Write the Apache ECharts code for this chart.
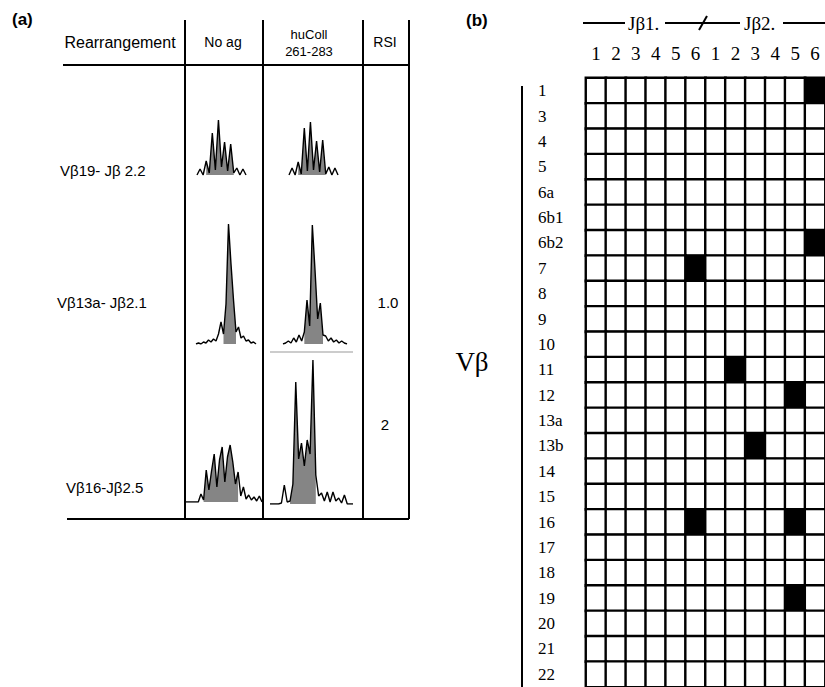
<!DOCTYPE html>
<html>
<head>
<meta charset="utf-8">
<script src="https://cdn.jsdelivr.net/npm/echarts@6/dist/echarts.min.js"></script>
<style>
  html, body { margin: 0; background: #fff; }
  #chart { width: 825px; height: 687px; }
</style>
</head>
<body>
<div id="chart"></div>
<script>
// ---- panel (b): Vβ x Jβ usage grid ----
var vbRows = ['1', '3', '4', '5', '6a', '6b1', '6b2', '7', '8', '9', '10', '11', '12',
  '13a', '13b', '14', '15', '16', '17', '18', '19', '20', '21', '22'];
var jbCols = ['1', '2', '3', '4', '5', '6', '1', '2', '3', '4', '5', '6'];
// used rearrangements: [Vβ row, Jβ column index 0..11]
var usedCells = [['1', 11], ['6b2', 11], ['7', 5], ['11', 7], ['12', 10],
  ['13b', 8], ['16', 5], ['16', 10], ['19', 10]];

// ---- panel (a): spectratype profiles ----
var rearrangements = ['Vβ19- Jβ 2.2', 'Vβ13a- Jβ2.1', 'Vβ16-Jβ2.5'];
var rsiValues = ['', '1.0', '2'];
var v19NoAg = [0, 6, 0, 14, 2, 42, 5, 55, 8, 33, 4, 31, 2, 7, 0, 6, 0];
var v19Coll = [0, 7, 0, 13, 1, 47, 4, 53, 5, 34, 3, 35, 1, 8, 0, 7, 0];
var v13NoAg = [0, 1, 0, 2, 1, 4, 2, 5, 3, 10, 22, 10, 40, 120, 80, 44, 12, 17, 6, 8, 3, 4, 1, 2, 0];
var v13Coll = [0, 1, 3, 1, 6, 2, 9, 3, 12, 44, 18, 119, 74, 25, 41, 9, 8, 3, 6, 2, 4, 1, 3, 1, 0];
var v16NoAg = [0, 0, 0, 0, 0, 0, 8, 2, 32, 12, 31, 48, 15, 42, 55, 20, 45, 57, 40, 18, 30, 6, 15, 3, 7, 2, 5, 1, 6, 0];
var v16Coll = [0, 0, 0, 0, 1, 19, 2, 3, 20, 122, 45, 61, 38, 64, 50, 144, 29, 8, 11, 3, 12, 2, 12, 3, 6, 1, 9, 0, 0, 0];
// grey filled part of each profile (first, last index)
var fillRanges = [[3, 12], [3, 12], [11, 16], [8, 15], [7, 20], [7, 16]];

var profiles = [v19NoAg, v19Coll, v13NoAg, v13Coll, v16NoAg, v16Coll];
// left, right, baseline (px)
var boxes = [[197, 246, 175], [289, 338, 175], [196, 256, 344],
  [283, 347, 344], [185, 262, 502], [270, 353, 504]];

var chart = echarts.init(document.getElementById('chart'), null, { renderer: 'svg' });

var grids = [], xAxes = [], yAxes = [], series = [];
profiles.forEach(function (p, i) {
  var b = boxes[i];
  grids.push({ left: b[0], width: b[1] - b[0], top: b[2] - 150, height: 150 });
  xAxes.push({ type: 'category', gridIndex: i, show: false, boundaryGap: false,
    data: p.map(function (v, k) { return k; }) });
  yAxes.push({ type: 'value', gridIndex: i, show: false, min: 0, max: 150 });
  var r = fillRanges[i];
  series.push({
    type: 'line', xAxisIndex: i, yAxisIndex: i, symbol: 'none', silent: true,
    data: p.map(function (v, k) { return k >= r[0] && k <= r[1] ? v : '-'; }),
    lineStyle: { width: 0 }, areaStyle: { color: '#858585', opacity: 1 }, z: 1
  });
  series.push({
    type: 'line', xAxisIndex: i, yAxisIndex: i, symbol: 'none', silent: true,
    data: p, lineStyle: { color: '#000', width: 1.4 }, z: 2
  });
});

// heatmap grid (bottom row runs past the page edge, as in the figure)
var hm = profiles.length;
grids.push({ left: 586, top: 78, width: 240, height: 612 });
xAxes.push({
  type: 'category', gridIndex: hm, position: 'top',
  data: jbCols.map(function (c, k) { return k; }),
  axisLine: { show: false }, axisTick: { show: false }, splitLine: { show: false },
  axisLabel: { interval: 0, margin: 15, color: '#000', fontFamily: 'Liberation Serif', fontSize: 19,
    formatter: function (v) { return jbCols[v]; } }
});
yAxes.push({
  type: 'category', gridIndex: hm, inverse: true,
  data: vbRows.map(function (r, k) { return k; }),
  axisLine: { show: false }, axisTick: { show: false }, splitLine: { show: false },
  axisLabel: { interval: 0, margin: 48, align: 'left', color: '#000', fontFamily: 'Liberation Serif', fontSize: 17,
    formatter: function (v) { return vbRows[v]; } }
});
var cells = [];
vbRows.forEach(function (r, ri) {
  jbCols.forEach(function (c, ci) {
    var used = usedCells.some(function (u) { return u[0] === r && u[1] === ci; });
    cells.push([ci, ri, used ? 1 : 0]);
  });
});
series.push({
  type: 'heatmap', xAxisIndex: hm, yAxisIndex: hm, data: cells, silent: true,
  itemStyle: { borderColor: '#000', borderWidth: 2.4 }
});

var sans = 'Liberation Sans, Arial, sans-serif';
var serif = 'Liberation Serif, Times New Roman, serif';
function txt(x, y, s, size, opt) {
  opt = opt || {};
  return { type: 'text', x: x, y: y, silent: true,
    style: { text: s, fill: '#000', font: (opt.bold ? 'bold ' : '') + size + 'px ' + (opt.font || sans),
      align: opt.align || 'center', verticalAlign: 'middle' } };
}
function ln(x1, y1, x2, y2, w, c) {
  return { type: 'line', silent: true, shape: { x1: x1, y1: y1, x2: x2, y2: y2 },
    style: { stroke: c || '#000', lineWidth: w || 2 } };
}

var graphics = [
  txt(12, 19, '(a)', 17, { bold: true, align: 'left' }),
  txt(120, 42, 'Rearrangement', 16),
  txt(223, 42, 'No ag', 14),
  txt(309, 34, 'huColl', 13),
  txt(309, 51, '261-283', 13),
  txt(385, 42, 'RSI', 14),
  ln(63, 65, 409, 65),
  ln(185, 20, 185, 519), ln(263, 20, 263, 519), ln(363, 20, 363, 519), ln(409, 20, 409, 519),
  ln(67, 519, 409, 519),
  ln(270, 352, 353, 352, 1, '#999'),
  txt(60, 170, rearrangements[0], 15, { align: 'left' }),
  txt(57, 302, rearrangements[1], 15, { align: 'left' }),
  txt(66, 487, rearrangements[2], 15, { align: 'left' }),
  txt(388, 302, rsiValues[1], 15),
  txt(385, 424, rsiValues[2], 15),

  txt(466, 20, '(b)', 17, { bold: true, align: 'left' }),
  ln(583, 23, 625, 23), txt(628, 23, 'Jβ1.', 19, { font: serif, align: 'left' }),
  ln(665, 23, 740, 23), ln(699, 30, 707, 16),
  txt(744, 23, 'Jβ2.', 19, { font: serif, align: 'left' }),
  ln(783, 23, 825, 23),
  txt(472, 362, 'Vβ', 27, { font: serif }),
  ln(522, 86, 522, 687)
];

chart.setOption({
  animation: false,
  grid: grids,
  xAxis: xAxes,
  yAxis: yAxes,
  visualMap: { show: false, type: 'piecewise', seriesIndex: series.length - 1, dimension: 2,
    pieces: [{ value: 0, color: '#fff' }, { value: 1, color: '#000' }] },
  series: series,
  graphic: graphics
});
</script>
</body>
</html>
